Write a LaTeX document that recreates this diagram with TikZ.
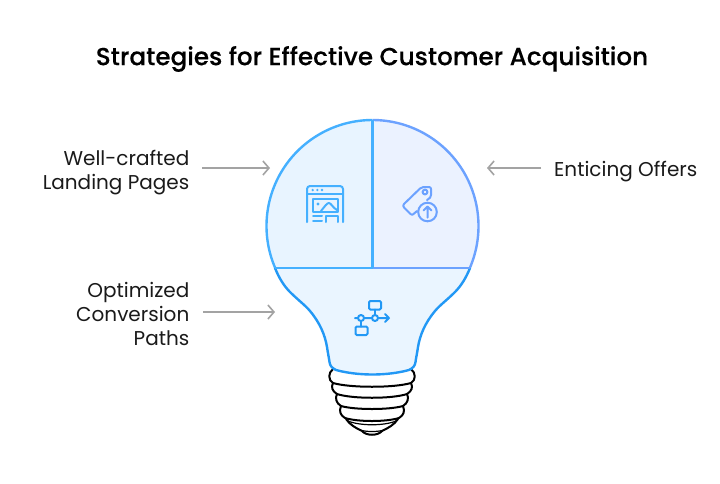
\documentclass[tikz,border=0pt]{standalone}
\usepackage{fontspec}
\setmainfont{Poppins}
\newfontfamily\titlefont[FakeBold=0.2]{Poppins Medium}
\usetikzlibrary{arrows.meta}
\definecolor{lfill}{HTML}{E8F4FF}
\definecolor{rfill}{HTML}{EBF2FF}
\definecolor{bfill}{HTML}{EAF5FF}
\definecolor{lline}{HTML}{45B0FF}
\definecolor{rline}{HTML}{6CA2FF}
\definecolor{bline}{HTML}{2298F5}
\definecolor{arrowgray}{HTML}{A3A3A3}
\definecolor{ink}{HTML}{1A1A1A}
\tikzset{
  labeltext/.style={font=\fontsize{20}{24.4}\selectfont,text=ink,inner sep=0pt,align=right},
  conn/.style={draw=arrowgray,line width=1.6pt,-{Straight Barb[length=6pt,width=14pt,line width=1.6pt]}},
  bulbedge/.style={line width=2.4pt,line join=round},
  iconl/.style={draw=lline,line width=2pt,line cap=round,line join=round},
  iconr/.style={draw=rline,line width=2pt,line cap=round,line join=round},
  iconb/.style={draw=bline,line width=2pt,line cap=round,line join=round},
  screw/.style={draw=black,line width=2pt,line cap=round,line join=round}
}
\begin{document}
\begin{tikzpicture}[x=1pt,y=-1pt]
\useasboundingbox (0,0) rectangle (720,483);
\fill[white] (0,0) rectangle (720,483);
% title
\node[font=\titlefont\fontsize{24.7}{28}\selectfont,text=black,inner sep=0pt] (title) at (372,59) {Strategies for Effective Customer Acquisition};
% screw base
\draw[screw] (333,369) .. controls (328,373) and (328,380) .. (333,383)
  .. controls (350,388) and (394,388) .. (411,383)
  .. controls (416,380) and (416,373) .. (411,369);
\draw[screw] (333,383) .. controls (331,387) and (332,391) .. (337,394)
  .. controls (352,399) and (392,399) .. (407,394)
  .. controls (412,391) and (413,387) .. (411,383);
\draw[screw] (337,394) .. controls (335,398) and (336,403) .. (341,406)
  .. controls (355,410) and (389,410) .. (403,406)
  .. controls (408,403) and (409,398) .. (407,394);
\draw[screw] (341,406) .. controls (339,411) and (340,415) .. (345,418)
  .. controls (358,422) and (386,422) .. (399,418)
  .. controls (404,415) and (405,411) .. (403,406);
\draw[screw] (346,419) .. controls (350,425) and (356,428) .. (362,431)
  .. controls (366,436) and (378,436) .. (382,431)
  .. controls (388,428) and (394,425) .. (398,419);
\draw[screw,line width=1.2pt] (348,421) .. controls (360,426) and (384,426) .. (396,421);
\draw[screw,line width=1.2pt] (360,430) .. controls (366,432) and (378,432) .. (384,430);
% bulb regions
\path[fill=lfill] (372.5,120) arc[start angle=-90,end angle=-203.5,radius=106] -- (372.5,268) -- cycle;
\path[fill=rfill] (372.5,120) arc[start angle=-90,end angle=23.5,radius=106] -- (372.5,268) -- cycle;
\path[fill=bfill] (275,268) .. controls (279,278) and (284,286) .. (290,292)
  .. controls (298,300) and (305,305) .. (310,311)
  .. controls (320,323) and (325,335) .. (327,347)
  .. controls (328,354) and (329,358) .. (329.5,362)
  .. controls (330,366) and (332,368) .. (336,370)
  .. controls (358,376) and (387,376) .. (409,370)
  .. controls (413,368) and (415,366) .. (415.5,362)
  .. controls (416,358) and (417,354) .. (418,347)
  .. controls (420,335) and (425,323) .. (435,311)
  .. controls (440,305) and (447,300) .. (455,292)
  .. controls (461,286) and (466,278) .. (470,268) -- cycle;
% bulb outlines
\draw[bulbedge,draw=lline] (372.5,120) arc[start angle=-90,end angle=-203.5,radius=106];
\draw[bulbedge,draw=rline] (372.5,120) arc[start angle=-90,end angle=23.5,radius=106];
\draw[bulbedge,draw=bline] (275,268) .. controls (279,278) and (284,286) .. (290,292)
  .. controls (298,300) and (305,305) .. (310,311)
  .. controls (320,323) and (325,335) .. (327,347)
  .. controls (328,354) and (329,358) .. (329.5,362)
  .. controls (330,366) and (332,368) .. (336,370)
  .. controls (358,376) and (387,376) .. (409,370)
  .. controls (413,368) and (415,366) .. (415.5,362)
  .. controls (416,358) and (417,354) .. (418,347)
  .. controls (420,335) and (425,323) .. (435,311)
  .. controls (440,305) and (447,300) .. (455,292)
  .. controls (461,286) and (466,278) .. (470,268);
\draw[bulbedge,draw=lline] (275,268) -- (372.5,268);
\draw[bulbedge,draw=rline] (372.5,268) -- (470,268);
\draw[bulbedge,draw=lline] (372.5,120) -- (372.5,268);
% window icon
\draw[iconl] (307,222) -- (307,189) arc[start angle=180,end angle=270,radius=3] -- (340,186) arc[start angle=270,end angle=360,radius=3] -- (343,222);
\draw[iconl] (307,193.5) -- (343,193.5);
\fill[lline] (312.7,190) circle (1.3pt) (317.4,190) circle (1.3pt) (322,190) circle (1.3pt) (318,204) circle (1.6pt);
\draw[iconl] (313,198.5) rectangle (337.5,211.5);
\draw[iconl] (321,211) .. controls (325,206) and (327,203) .. (329,203) .. controls (331,203) and (333,208) .. (337,210);
\draw[iconl] (313,216) -- (322,216) (313,220.5) -- (322,220.5);
\draw[iconl] (326,222) -- (326,216) -- (337.5,216) -- (337.5,222);
% tag icon
\draw[iconr] (417,211) -- (413.5,214) .. controls (412.5,215) and (411.5,215) .. (410.5,214) -- (404,207.5) .. controls (403,206.5) and (403,205) .. (404,204) -- (420,188.5) .. controls (421,187.5) and (422,187) .. (423.5,187) -- (429,187) .. controls (430.5,187) and (431,188) .. (431,189) -- (431,195) .. controls (431,197) and (430,198) .. (427,200);
\draw[iconr] (425,192) circle (2.4pt);
\draw[iconr] (427.5,212) circle (9.3pt);
\draw[iconr] (427.5,217.5) -- (427.5,206.5) (423.5,210.5) -- (427.5,206.5) -- (431.5,210.5);
% flow icon
\draw[iconb,rounded corners=1.2pt] (369,301) rectangle (381,309.5);
\draw[iconb,rounded corners=1.2pt] (355.5,326.5) rectangle (367.5,335);
\draw[iconb] (375,309.5) -- (375,315) (361,321) -- (361,326.5);
\draw[iconb] (355,318) -- (358,318) (364,318) -- (372,318) (378,318) -- (389,318) (385,314) -- (389,318) -- (385,322);
\draw[iconb] (361,318) circle (3pt) (375,318) circle (3pt);
% labels
\node[labeltext,anchor=east] (lp) at (189.5,172.5) {Well-crafted\\Landing Pages};
\node[labeltext,anchor=west] (eo) at (554,172) {Enticing Offers};
\node[labeltext,anchor=east] (op) at (189.5,314) {Optimized\\Conversion\\Paths};
% connectors
\coordinate (lpend) at (270,168);
\coordinate (eoend) at (487,168);
\coordinate (opend) at (275,312);
\draw[conn] (202,168) -- (lpend);
\draw[conn] (541,168) -- (eoend);
\draw[conn] (203,312) -- (opend);
\end{tikzpicture}
\end{document}
